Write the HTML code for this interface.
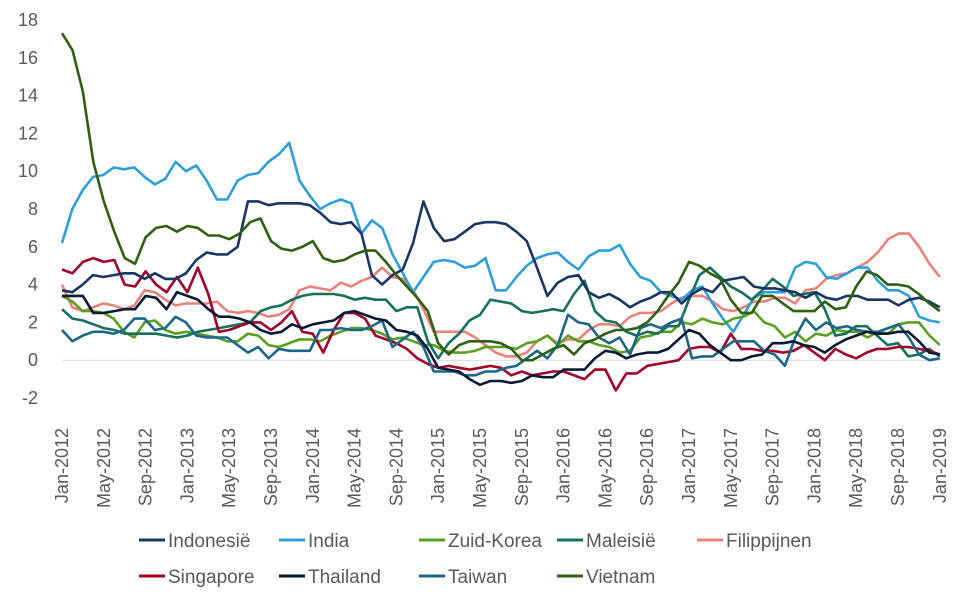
<!DOCTYPE html>
<html><head><meta charset="utf-8"><style>
body{margin:0;background:#fff}
svg text{font-family:"Liberation Sans",sans-serif;fill:#595959}
</style></head><body>
<svg id="s" width="960" height="600" xmlns="http://www.w3.org/2000/svg"></svg>
<script>
const S=document.getElementById('s');
const X=m=>62+m*10.45, Y=v=>20+(18-v)*18.9;
let h='';
for(let v=-2;v<=18;v+=2){h+=`<text x="38" y="${Y(v)+6}" font-size="18" text-anchor="end">${v}</text>`;}
h+=`<line x1="62" y1="${Y(0)}" x2="940" y2="${Y(0)}" stroke="#d9d9d9" stroke-width="1"/>`;
const mn=['Jan','May','Sep'];
for(let m=0;m<=84;m+=4){const yr=2012+Math.floor(m/12);const l=['Jan','May','Sep'][(m%12)/4]+'-'+yr;
h+=`<text transform="translate(${X(m)+6},428) rotate(-90)" font-size="18" text-anchor="end">${l}</text>`;}
const D={
Filippijnen:['#e8837c',[4.0,2.8,2.6,2.8,3.0,2.9,2.7,2.9,3.7,3.6,3.2,2.9,3.0,3.0,3.0,3.1,2.6,2.5,2.6,2.5,2.3,2.4,2.7,3.7,3.9,3.8,3.7,4.1,3.9,4.2,4.4,4.9,4.4,4.3,3.7,2.7,1.5,1.5,1.5,1.5,1.2,0.8,0.4,0.2,0.2,0.4,1.0,1.3,0.9,1.1,1.1,1.6,1.9,1.9,1.8,2.3,2.5,2.5,2.6,3.0,3.3,3.4,3.4,3.1,2.7,2.6,2.8,3.1,3.1,3.3,3.3,3.0,3.7,3.8,4.3,4.5,4.6,4.9,5.2,5.7,6.4,6.7,6.7,6.0,5.1,4.4]],
India:['#2e9fd8',[6.2,8.0,9.0,9.7,9.8,10.2,10.1,10.2,9.7,9.3,9.6,10.5,10.0,10.3,9.5,8.5,8.5,9.5,9.8,9.9,10.5,10.9,11.5,9.5,8.7,8.0,8.3,8.5,8.3,6.7,7.4,7.0,5.6,4.6,3.6,4.4,5.2,5.3,5.2,4.9,5.0,5.4,3.7,3.7,4.4,5.0,5.4,5.6,5.7,5.2,4.8,5.5,5.8,5.8,6.1,5.1,4.4,4.2,3.6,3.4,3.2,3.7,3.9,3.0,2.2,1.5,2.4,3.3,3.6,3.6,3.6,4.9,5.2,5.1,4.4,4.3,4.6,4.9,4.9,4.2,3.7,3.7,3.4,2.3,2.1,2.0]],
'Zuid-Korea':['#5aa020',[3.4,3.1,2.6,2.6,2.5,2.2,1.5,1.2,2.0,2.1,1.6,1.4,1.5,1.4,1.3,1.2,1.0,1.0,1.4,1.3,0.8,0.7,0.9,1.1,1.1,1.0,1.3,1.5,1.7,1.7,1.6,1.4,1.1,1.2,1.0,0.8,0.8,0.5,0.4,0.4,0.5,0.7,0.7,0.7,0.6,0.9,1.0,1.3,0.8,1.3,1.0,1.0,0.8,0.7,0.4,0.5,1.2,1.3,1.5,1.5,2.0,1.9,2.2,2.0,1.9,2.2,2.3,2.6,2.0,1.8,1.2,1.5,1.0,1.4,1.3,1.6,1.5,1.5,1.2,1.5,1.4,1.9,2.0,2.0,1.3,0.8]],
'Maleisië':['#16705a',[2.7,2.2,2.1,1.9,1.7,1.6,1.4,1.4,1.4,1.4,1.3,1.2,1.3,1.5,1.6,1.7,1.8,1.9,2.0,2.6,2.8,2.9,3.2,3.4,3.5,3.5,3.5,3.4,3.2,3.3,3.2,3.2,2.6,2.8,2.8,1.0,0.1,0.9,1.4,2.1,2.4,3.2,3.1,3.0,2.6,2.5,2.6,2.7,2.6,3.5,4.2,2.6,2.1,2.0,1.5,1.3,1.5,1.4,1.8,1.8,3.2,4.5,4.9,4.4,3.9,3.6,3.2,3.7,4.3,3.9,3.4,3.5,3.6,2.7,1.3,1.4,1.8,1.8,1.3,0.8,0.9,0.2,0.3,0.6,0.2]],
Singapore:['#a0002a',[4.8,4.6,5.2,5.4,5.2,5.3,4.0,3.9,4.7,4.0,3.6,4.4,3.6,4.9,3.5,1.5,1.6,1.8,2.0,2.0,1.6,2.0,2.6,1.5,1.4,0.4,1.6,2.5,2.5,2.2,1.3,1.1,0.9,0.6,0.1,-0.2,-0.4,-0.3,-0.4,-0.5,-0.4,-0.3,-0.4,-0.8,-0.6,-0.8,-0.7,-0.6,-0.6,-0.8,-1.0,-0.5,-0.5,-1.6,-0.7,-0.7,-0.3,-0.2,-0.1,0.0,0.6,0.7,0.7,0.4,1.4,0.6,0.6,0.5,0.5,0.4,0.5,0.8,0.4,0.0,0.6,0.3,0.1,0.4,0.6,0.6,0.7,0.7,0.6,0.5,0.3]],
Taiwan:['#1c6688',[1.6,1.0,1.3,1.5,1.5,1.4,1.6,2.2,2.2,1.6,1.7,2.3,2.0,1.3,1.2,1.2,1.2,0.8,0.4,0.7,0.1,0.6,0.5,0.5,0.5,1.6,1.6,1.7,1.6,1.6,1.8,2.1,0.7,1.1,1.5,0.7,-0.6,-0.6,-0.6,-0.8,-0.8,-0.6,-0.6,-0.4,-0.3,0.1,0.5,0.1,0.8,2.4,2.0,1.9,1.2,0.9,1.2,0.3,1.7,1.9,1.7,2.0,2.2,0.1,0.2,0.2,0.6,1.0,1.0,1.0,0.5,0.3,-0.3,1.2,2.2,1.6,2.0,1.7,1.8,1.6,1.5,1.5,1.7,1.9,1.2,0.3,0.0,0.1]],
Thailand:['#0a1a35',[3.4,3.4,3.4,2.5,2.5,2.6,2.7,2.7,3.4,3.3,2.7,3.6,3.4,3.2,2.7,2.3,2.3,2.2,2.0,1.6,1.4,1.5,1.9,1.7,1.9,2.0,2.1,2.5,2.6,2.4,2.2,2.1,1.6,1.5,1.3,0.6,-0.4,-0.5,-0.6,-1.0,-1.3,-1.1,-1.1,-1.2,-1.1,-0.8,-0.9,-0.9,-0.5,-0.5,-0.5,0.1,0.5,0.4,0.1,0.3,0.4,0.4,0.6,1.1,1.6,1.4,0.8,0.4,0.0,0.0,0.2,0.3,0.9,0.9,1.0,0.8,0.7,0.4,0.8,1.1,1.3,1.5,1.4,1.4,1.5,1.5,1.0,0.4,0.3]],
'Indonesië':['#1a3664',[3.7,3.6,4.0,4.5,4.4,4.5,4.6,4.6,4.3,4.6,4.3,4.3,4.6,5.3,5.7,5.6,5.6,6.0,8.4,8.4,8.2,8.3,8.3,8.3,8.2,7.8,7.3,7.2,7.3,6.7,4.5,4.0,4.5,4.8,6.2,8.4,7.0,6.3,6.4,6.8,7.2,7.3,7.3,7.2,6.8,6.3,4.9,3.4,4.1,4.4,4.5,3.6,3.3,3.5,3.2,2.8,3.1,3.3,3.6,3.6,3.0,3.5,3.8,3.6,4.2,4.3,4.4,3.9,3.8,3.8,3.7,3.6,3.3,3.6,3.3,3.2,3.4,3.4,3.2,3.2,3.2,2.9,3.2,3.3,3.1,2.8]],
Vietnam:['#2f6010',[17.3,16.4,14.2,10.5,8.4,6.8,5.4,5.1,6.5,7.0,7.1,6.8,7.1,7.0,6.6,6.6,6.4,6.7,7.3,7.5,6.3,5.9,5.8,6.0,6.3,5.4,5.2,5.3,5.6,5.8,5.8,5.2,4.5,3.9,3.3,2.6,0.9,0.3,0.8,1.0,1.0,1.0,0.9,0.6,0.0,0.0,0.3,0.6,0.8,0.3,0.9,1.1,1.4,1.6,1.6,1.7,2.0,2.6,3.4,4.1,5.2,5.0,4.6,4.3,3.2,2.5,2.5,3.4,3.4,3.0,2.6,2.6,2.6,3.1,2.7,2.8,3.9,4.7,4.5,4.0,4.0,3.9,3.5,3.0,2.6]]};
for(const k in D){const [c,a]=D[k];const n=a.length;const p=a.map((v,i)=>X(i*84/(n-1)).toFixed(1)+','+Y(v).toFixed(1)).join(' ');
h+=`<polyline points="${p}" fill="none" stroke="${c}" stroke-width="2.6" stroke-linejoin="round"/>`;}
const L=[['Indonesië',139,540],['India',279,540],['Zuid-Korea',419,540],['Maleisië',557,540],['Filippijnen',697,540],['Singapore',139,576],['Thailand',279,576],['Taiwan',419,576],['Vietnam',557,576]];
for(const [k,x,y] of L){h+=`<line x1="${x}" y1="${y}" x2="${x+26}" y2="${y}" stroke="${D[k][0]}" stroke-width="3"/><text x="${x+29}" y="${y+7}" font-size="19">${k}</text>`;}
S.innerHTML=h;
</script>
</body></html>
